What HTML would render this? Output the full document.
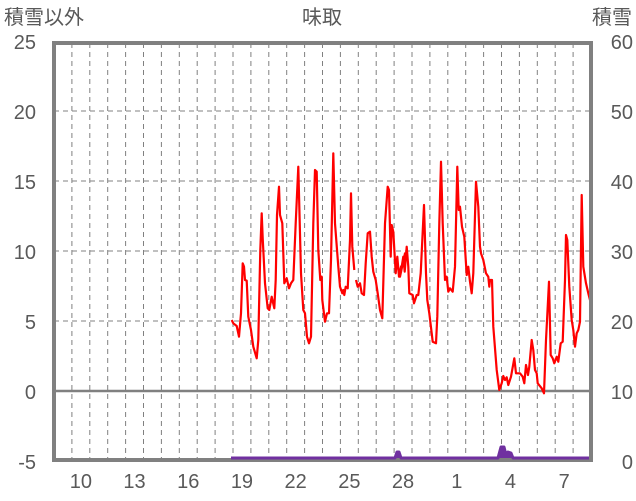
<!DOCTYPE html>
<html><head><meta charset="utf-8"><style>
html,body{margin:0;padding:0;background:#fff;}
svg{display:block;font-family:"Liberation Sans","Noto Sans CJK JP",sans-serif;}
text{fill:#595959;font-size:20px;}
</style></head><body>
<svg id="s" width="636" height="501" viewBox="0 0 636 501">
<g id="grid" stroke="#808080" stroke-width="1" stroke-dasharray="5,4"></g>
<line x1="54" y1="391" x2="591" y2="391" stroke="#808080" stroke-width="2.5"/>
<polyline id="red" fill="none" stroke="#ff0000" stroke-width="2.2" stroke-linejoin="round"/>
<polyline id="red2" fill="none" stroke="#ff0000" stroke-width="2.2" stroke-linejoin="round"/>
<rect x="54" y="43" width="537" height="417" fill="none" stroke="#808080" stroke-width="4"/>
<polyline id="pur" fill="#7030a0" stroke="#7030a0" stroke-width="3" stroke-linejoin="round"/>
<text x="4" y="24">積雪以外</text>
<text x="322" y="24" text-anchor="middle">味取</text>
<text x="632" y="24" text-anchor="end">積雪</text>
<g id="lab"></g>
</svg>
<script>
var ns="http://www.w3.org/2000/svg",g=document.getElementById('grid'),lab=document.getElementById('lab');
function el(p,t,a,txt){var e=document.createElementNS(ns,t);for(var k in a)e.setAttribute(k,a[k]);if(txt)e.textContent=txt;p.appendChild(e);}
var dw=537/30;
for(var i=1;i<30;i++){var x=54+i*dw;el(g,'line',{x1:x,y1:43,x2:x,y2:460});}
[111,181,251,321].forEach(function(y){el(g,'line',{x1:54,y1:y,x2:591,y2:y});});
[[25,49],[20,119],[15,189],[10,259],[5,329],[0,399],[-5,469]].forEach(function(a){el(lab,'text',{x:36,y:a[1],'text-anchor':'end'},String(a[0]));});
[[60,49],[50,119],[40,189],[30,259],[20,329],[10,399],[0,469]].forEach(function(a){el(lab,'text',{x:633,y:a[1],'text-anchor':'end'},String(a[0]));});
var days=['10','13','16','19','22','25','28','1','4','7'];
days.forEach(function(d,i){el(lab,'text',{x:54+dw*(1.5+3*i),y:488,'text-anchor':'middle'},d);});
function conv(arr,ox,oy){return arr.map(function(p){return (ox+p[0]/3).toFixed(1)+','+(oy+p[1]/3).toFixed(1);}).join(' ');}
var a=[[20,540],[25,550],[35,558],[42,590],[48,520],[53,370],[57,380],[60,420],[65,422],[70,530],[78,570],[85,620],[95,655],[100,600],[106,330],[110,220],[113,295],[120,430],[128,505],[133,510],[140,470],[148,505],[152,420],[156,225],[162,140],[165,225],[172,250],[178,430],[185,415],[192,445],[198,430],[205,420],[212,250],[220,80],[228,400],[235,510],[240,520],[246,590],[252,610],[258,590],[265,250],[270,90],[275,95],[280,330],[286,420],[290,410],[292,480],[300,545],[306,520],[312,520],[318,360],[325,40],[330,250],[340,380],[345,440],[352,460],[355,450],[358,465],[362,440],[368,445],[375,300],[378,160],[382,320],[388,390]];
var b=[[393,420],[398,440],[405,430],[410,460],[417,465],[422,370],[428,280],[435,275],[440,350],[445,395],[452,420],[458,460],[465,510],[472,535],[480,250],[488,140],[492,150],[497,350],[500,255],[505,275],[512,400],[517,350],[522,410],[528,380],[535,370],[540,340]];
var c=[[0,410],[5,380],[10,350],[14,395],[20,320],[25,380],[28,460],[38,465],[42,490],[50,465],[55,465],[62,400],[72,195],[78,400],[82,480],[88,520],[95,580],[98,605],[108,610],[112,530],[118,250],[123,65],[128,250],[135,420],[140,410],[145,455],[150,445],[158,455],[165,380],[172,80],[176,210],[180,200],[186,260],[193,290],[200,405],[205,380],[210,425],[215,460],[220,400],[228,125],[235,200],[240,320],[243,340],[250,360],[258,400],[265,410],[268,440],[270,420],[276,420],[280,560],[290,690],[298,750],[305,730],[310,708],[315,720],[320,712],[325,735],[333,710],[343,655],[348,700],[360,700],[368,710],[373,730],[378,675],[384,705],[388,680],[395,600],[400,630],[405,690],[410,700],[413,730],[425,745],[432,760],[438,600],[447,425],[452,645],[458,655],[463,670],[470,650],[475,665],[482,610],[488,605],[495,420],[498,285],[502,300],[508,440],[515,540],[520,570],[525,620],[530,580],[535,570],[540,545],[545,165],[550,380],[558,430],[565,460],[575,500]];
document.getElementById('red').setAttribute('points',conv(a,225,140));
document.getElementById('red2').setAttribute('points',conv(b,225,140)+' '+conv(c,400,140));
document.getElementById('pur').setAttribute('points','231,458 395,458 397,452 399,452 401,458 498,458 501,447 504,447 506,455 508,452 511,453 513,458 589,458');
</script>
</body></html>
